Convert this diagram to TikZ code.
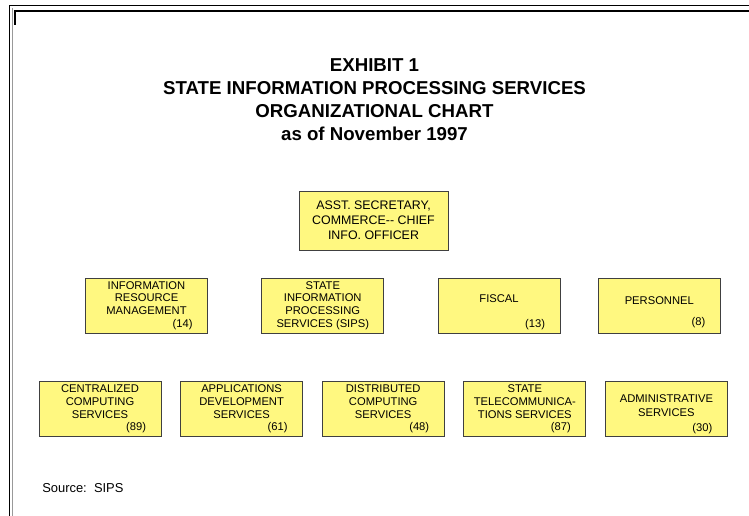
\documentclass[tikz,border=0pt]{standalone}
\usepackage{fontspec}
\setmainfont{Liberation Sans}
\usepackage{tikz}
\usetikzlibrary{positioning,calc}
\tikzset{
    box/.style={rectangle, draw=black!75, line width=0.7pt, fill=yellow!50, minimum width=91.5pt, minimum height=41.25pt, align=center, inner sep=1pt, font=\fontsize{8.4}{9.4}\selectfont},
    headbox/.style={box, minimum width=111.75pt, minimum height=44.25pt, font=\fontsize{9.3}{11.2}\selectfont}
}
\newcommand{\headcount}[1]{\makebox[69pt][r]{#1}}

\begin{document}
\begin{tikzpicture}[
            x=0.75pt, y=-0.75pt,
            title/.style={align=center, inner sep=0pt, font=\fontsize{14}{17.1}\selectfont\bfseries},
            note/.style={anchor=west, inner sep=0pt, font=\fontsize{9.7}{11}\selectfont}
        ]
            \useasboundingbox (0,0) rectangle (749,516);

            % Frame
            \draw[black!40, line width=0.7pt] (12.5,8) -- (12.5,516);
            \draw[line width=1.2pt] (749,5.5) -- (9.5,5.5) -- (9.5,516);
            \draw[line width=1.5pt] (749,11) -- (15,11) -- (15,25);

            % Heading
            \node[title] (exhibit) at (374.5,99.5) {EXHIBIT 1\\STATE INFORMATION PROCESSING SERVICES\\ORGANIZATIONAL CHART\\as of November 1997};

            % Level 1
            \node[headbox] (cio) at (373.5,220.5) {ASST. SECRETARY,\\COMMERCE-{}- CHIEF\\INFO. OFFICER};

            % Level 2
            \node[box] (irm) at (146.5,305.5) {INFORMATION\\RESOURCE\\MANAGEMENT\\\headcount{(14)}};
            \node[box, right=40pt of irm] (sips) {STATE\\INFORMATION\\PROCESSING\\SERVICES (SIPS)};
            \node[box, right=40pt of sips] (fiscal) {\strut\\FISCAL\\\strut\\\headcount{(13)}};
            \node[box, right=28pt of fiscal] (personnel) {\strut\\PERSONNEL\\[6pt]\headcount{(8)}};

            % Level 3
            \node[box] (ccs) at (100,409) {CENTRALIZED\\COMPUTING\\SERVICES\\\headcount{(89)}};
            \node[box, right=14pt of ccs] (ads) {APPLICATIONS\\DEVELOPMENT\\SERVICES\\\headcount{(61)}};
            \node[box, right=14pt of ads] (dcs) {DISTRIBUTED\\COMPUTING\\SERVICES\\\headcount{(48)}};
            \node[box, right=14pt of dcs] (stc) {STATE\\TELECOMMUNICA-\\TIONS SERVICES\\\headcount{(87)}};
            \node[box, right=14pt of stc] (admin) {\rule{0pt}{13.5pt}ADMINISTRATIVE\\[1.5pt]SERVICES\\[1.5pt]\headcount{(30)}};

            % Source
            \node[note] (source) at (42,488) {Source:\ \ SIPS};

        \end{tikzpicture}
\end{document}
